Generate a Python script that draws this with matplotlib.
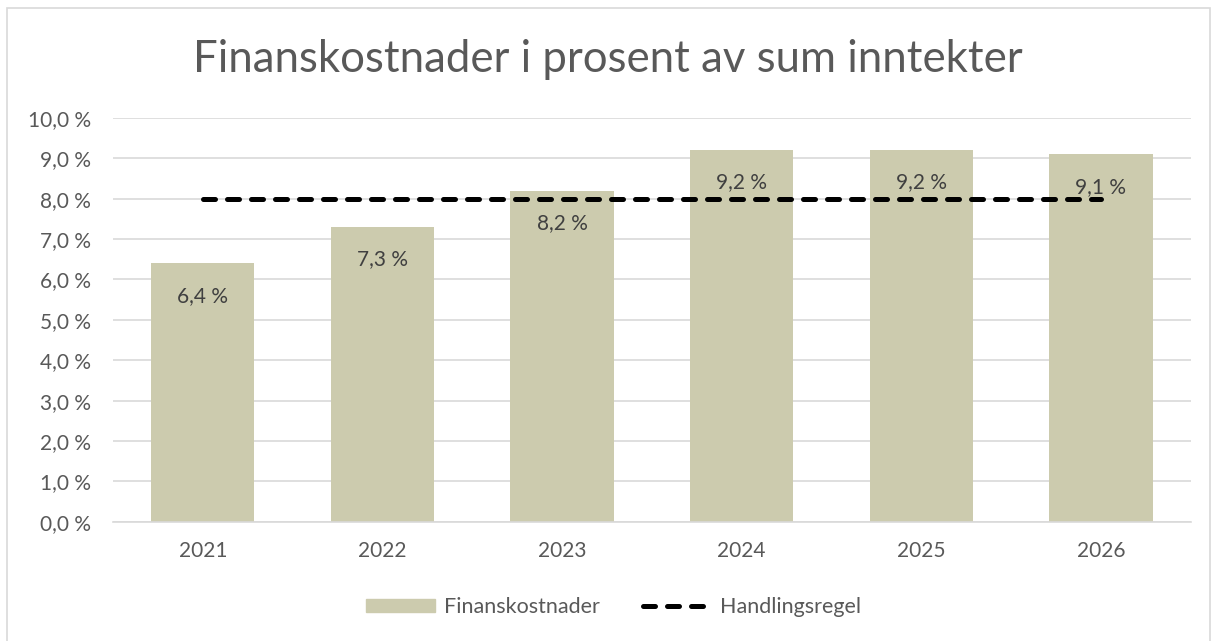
import matplotlib
matplotlib.use("Agg")
import matplotlib.pyplot as plt
from matplotlib.patches import Rectangle
from matplotlib.lines import Line2D
import numpy as np

years = ["2021", "2022", "2023", "2024", "2025", "2026"]
finanskostnader = [6.4, 7.3, 8.2, 9.2, 9.2, 9.1]
handlingsregel = [8.0, 8.0, 8.0, 8.0, 8.0, 8.0]
yticks = np.arange(0, 10.01, 1.0)

plt.rcParams['font.family'] = ['Lato', 'DejaVu Sans']

bar_color = '#CCCBAE'
text_color = '#595959'

fig = plt.figure(figsize=(12.15, 6.41), dpi=100)
ax = fig.add_axes([0.093, 0.186, 0.887, 0.630])

x = np.arange(len(years))
ax.bar(x, finanskostnader, width=0.575, color=bar_color, zorder=2)
ax.plot(x, handlingsregel, color='black', lw=3.6, dashes=(2.4, 2.4),
        dash_capstyle='round', solid_capstyle='round', zorder=3)

for xi, v in zip(x, finanskostnader):
    ax.text(xi, v - 0.8, f"{v:.1f} %".replace('.', ','), ha='center', va='center',
            fontsize=15, color='#404040', zorder=4)

ax.set_xlim(-0.5, len(years) - 0.5)
ax.set_ylim(0, 10)
ax.set_yticks(yticks)
ax.set_yticklabels([f"{t:.1f} %".replace('.', ',') for t in yticks])
ax.set_xticks(x)
ax.set_xticklabels(years)
ax.tick_params(axis='both', length=0, labelsize=15, labelcolor=text_color)
ax.tick_params(axis='y', pad=16)
ax.tick_params(axis='x', pad=14)
ax.grid(axis='y', color='#D9D9D9', lw=1.2, zorder=0)
for s in ['top', 'right', 'left']:
    ax.spines[s].set_visible(False)
ax.spines['bottom'].set_color('#D9D9D9')
ax.spines['bottom'].set_linewidth(1.2)

fig.text(0.5, 0.907, "Finanskostnader i prosent av sum inntekter", ha='center', va='center',
         fontsize=31.5, color=text_color)

handles = [Rectangle((0, 0), 1, 1, color=bar_color),
           Line2D([0], [0], color='black', lw=3.6, dashes=(2.4, 2.4), dash_capstyle='round')]
fig.legend(handles, ["Finanskostnader", "Handlingsregel"], loc='center', bbox_to_anchor=(0.505, 0.053),
           ncol=2, frameon=False, fontsize=15.5, labelcolor=text_color, handlelength=3.2,
           handleheight=0.55, handletextpad=0.4, columnspacing=2.0)

fig.patches.append(Rectangle((0.006, -0.01), 0.99, 0.998, transform=fig.transFigure,
                             fill=False, edgecolor='#D9D9D9', lw=1.2))

fig.savefig("out.png", dpi=100)
